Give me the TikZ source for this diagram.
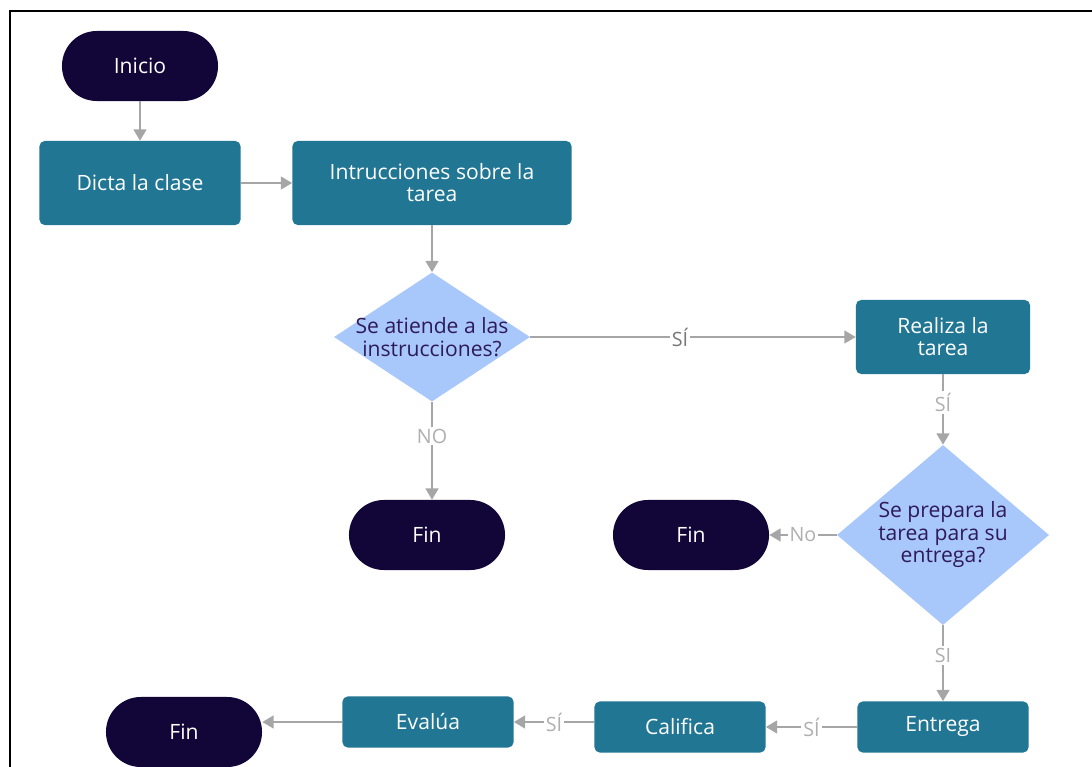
\documentclass[tikz,border=0pt]{standalone}
\usepackage{fontspec}
\setmainfont{Open Sans}
\usetikzlibrary{arrows.meta, positioning, shapes.geometric}

\definecolor{finnavy}{RGB}{18,6,56}
\definecolor{boxteal}{RGB}{33,118,148}
\definecolor{decblue}{RGB}{168,199,250}
\definecolor{dectxt}{RGB}{46,26,90}
\definecolor{arrgray}{RGB}{166,166,166}
\definecolor{lblgray}{RGB}{175,175,175}
\definecolor{lbldark}{RGB}{120,120,120}

\tikzset{
  term/.style={rectangle, fill=finnavy, text=white, minimum width=3.9cm, minimum height=1.75cm, rounded corners=0.87cm, font=\fontsize{15}{17}\selectfont},
  proc/.style={rectangle, fill=boxteal, text=white, rounded corners=0.13cm, align=center, font=\fontsize{15}{15.6}\selectfont},
  dec/.style={diamond, fill=decblue, inner sep=0pt},
  dectext/.style={text=dectxt, align=center, font=\fontsize{15}{16}\selectfont},
  arr/.style={draw=arrgray, line width=1.7pt, -{Triangle[width=9pt,length=8pt]}},
  lbl/.style={fill=white, text=lblgray, inner sep=1.5pt, font=\fontsize{14}{15}\selectfont}
}

\begin{document}
\begin{tikzpicture}[x=0.025cm, y=-0.025cm]
  \useasboundingbox (0,0) rectangle (1092,767);

  % Frame
  \draw[line width=1.4pt] (10,767) -- (10,11) -- (1092,11);

  % Nodes
  \node[term] (inicio) at (140,66) {Inicio};
  \node[proc, minimum width=5.025cm, minimum height=2.1cm] (dicta) at (140,183) {Dicta la clase};
  \node[proc, minimum width=6.975cm, minimum height=2.1cm] (instr) at (432,183) {Intrucciones sobre la\\tarea};
  \node[dec, minimum width=4.9cm, minimum height=3.225cm,
        label={[dectext]center:Se atiende a las\\instrucciones?}] (atiende) at (432,337) {};
  \node[proc, minimum width=4.35cm, minimum height=1.85cm] (realiza) at (943,337) {Realiza la\\tarea};
  \node[term] (finA) at (427,535) {Fin};
  \node[dec, minimum width=5.3cm, minimum height=4.5cm,
        label={[dectext]center:Se prepara la\\tarea para su\\entrega?}] (prepara) at (943,535) {};
  \node[term] (finB) at (691,535) {Fin};
  \node[proc, minimum width=4.275cm, minimum height=1.275cm] (entrega) at (943,727) {Entrega};
  \node[proc, minimum width=4.275cm, minimum height=1.275cm] (califica) at (680,727) {Califica};
  \node[proc, minimum width=4.275cm, minimum height=1.275cm] (evalua) at (428,722) {Evalúa};
  \node[term] (finC) at (184,732) {Fin};

  % Connectors
  \draw[arr] (inicio) -- (dicta);
  \draw[arr] (dicta) -- (instr);
  \draw[arr] (instr) -- (atiende);
  \draw[arr] (atiende) -- node[lbl, text=lbldark, pos=0.46] {SÍ} (realiza);
  \draw[arr] (atiende.south) -- node[lbl, pos=0.35] {NO} (atiende.south |- finA.north);
  \draw[arr] (realiza) -- node[lbl, pos=0.4] {SÍ} (prepara);
  \draw[arr] (prepara) -- node[lbl] {No} (finB);
  \draw[arr] (prepara) -- node[lbl, pos=0.4] {SI} (entrega);
  \draw[arr] (entrega) -- node[lbl] {SÍ} (califica);
  \draw[arr] (califica.west |- evalua) -- node[lbl] {SÍ} (evalua.east);
  \draw[arr] (evalua.west) -- (evalua.west -| finC.east);
\end{tikzpicture}
\end{document}
